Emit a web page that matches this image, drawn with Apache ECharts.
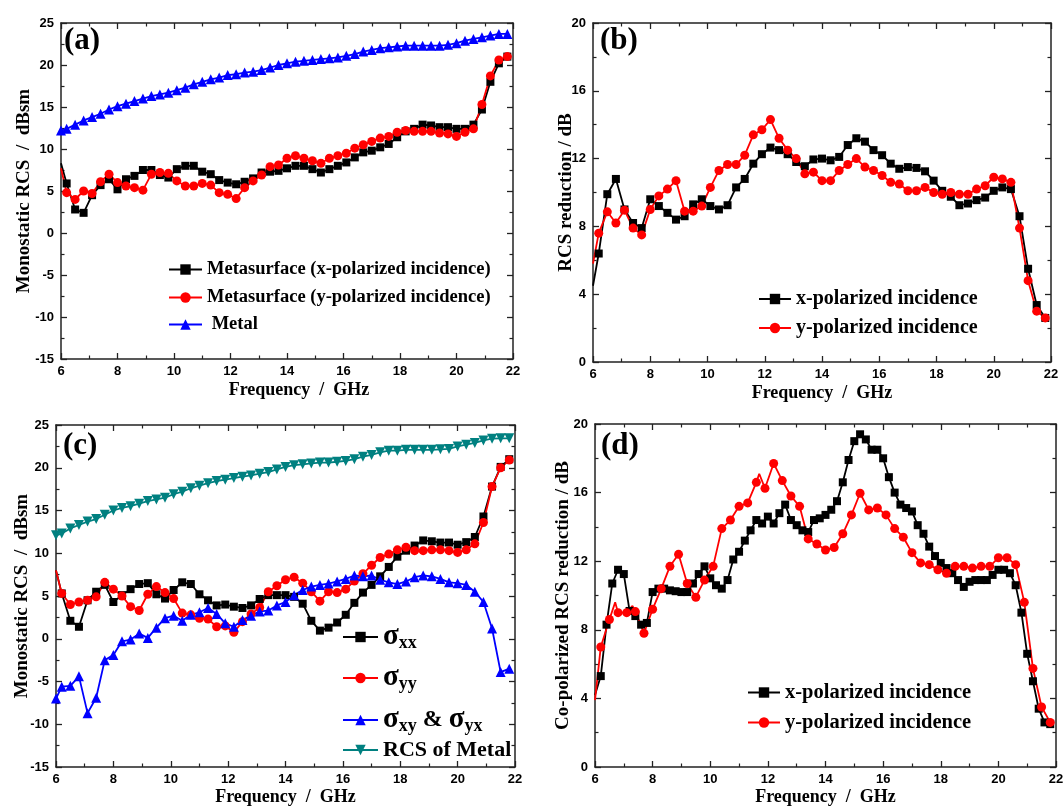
<!DOCTYPE html>
<html>
<head>
<meta charset="utf-8">
<script src="https://cdn.jsdelivr.net/npm/echarts@6/dist/echarts.min.js"></script>
<style>html,body{margin:0;padding:0;background:#fff;}#c{width:1064px;height:808px;}</style>
</head>
<body>
<div id="c"></div>
<script>
// ---------- data ----------
const freq = [6.0, 6.2, 6.5, 6.8, 7.1, 7.4, 7.7, 8.0, 8.3, 8.6, 8.9, 9.2, 9.5, 9.8, 10.1, 10.4, 10.7, 11.0, 11.3, 11.6, 11.9, 12.2, 12.5, 12.8, 13.1, 13.4, 13.7, 14.0, 14.3, 14.6, 14.9, 15.2, 15.5, 15.8, 16.1, 16.4, 16.7, 17.0, 17.3, 17.6, 17.9, 18.2, 18.5, 18.8, 19.1, 19.4, 19.7, 20.0, 20.3, 20.6, 20.9, 21.2, 21.5, 21.8];
const freqD = [6.0, 6.2, 6.4, 6.6, 6.8, 7.0, 7.2, 7.4, 7.6, 7.8, 8.0, 8.2, 8.4, 8.6, 8.8, 9.0, 9.2, 9.4, 9.6, 9.8, 10.0, 10.2, 10.4, 10.6, 10.8, 11.0, 11.2, 11.4, 11.6, 11.8, 12.0, 12.2, 12.4, 12.6, 12.8, 13.0, 13.2, 13.4, 13.6, 13.8, 14.0, 14.2, 14.4, 14.6, 14.8, 15.0, 15.2, 15.4, 15.6, 15.8, 16.0, 16.2, 16.4, 16.6, 16.8, 17.0, 17.2, 17.4, 17.6, 17.8, 18.0, 18.2, 18.4, 18.6, 18.8, 19.0, 19.2, 19.4, 19.6, 19.8, 20.0, 20.2, 20.4, 20.6, 20.8, 21.0, 21.2, 21.4, 21.6, 21.8];
const freqDY = [6.0, 6.2, 6.5, 6.7, 6.8, 7.1, 7.3, 7.4, 7.7, 8.0, 8.3, 8.6, 8.9, 9.2, 9.5, 9.8, 10.1, 10.4, 10.7, 11.0, 11.3, 11.6, 11.7, 11.9, 12.2, 12.5, 12.8, 13.1, 13.4, 13.7, 14.0, 14.3, 14.6, 14.9, 15.2, 15.5, 15.8, 16.1, 16.4, 16.7, 17.0, 17.3, 17.6, 17.9, 18.2, 18.5, 18.8, 19.1, 19.4, 19.7, 20.0, 20.3, 20.6, 20.9, 21.2, 21.5, 21.8];
const dYUnmarked = [6.0, 6.7, 7.3, 11.7];

// (a) monostatic RCS, dBsm
const aMetaX = [8.3, 5.9, 2.8, 2.4, 4.5, 5.7, 6.4, 5.2, 6.4, 6.8, 7.5, 7.5, 6.9, 6.6, 7.6, 8.0, 8.0, 7.3, 7.0, 6.3, 6.0, 5.8, 6.1, 6.5, 7.2, 7.3, 7.4, 7.7, 8.0, 8.0, 7.6, 7.2, 7.6, 8.0, 8.4, 9.0, 9.6, 9.8, 10.2, 10.6, 11.4, 12.1, 12.4, 12.9, 12.8, 12.6, 12.6, 12.4, 12.4, 12.9, 14.7, 18.0, 20.2, 21.0];
const aMetaY = [7.7, 4.8, 4.0, 5.0, 4.7, 6.1, 7.0, 6.0, 5.6, 5.4, 5.1, 7.0, 7.2, 7.1, 6.2, 5.6, 5.6, 5.9, 5.7, 4.8, 4.6, 4.1, 5.4, 6.2, 6.9, 7.9, 8.1, 8.9, 9.2, 8.9, 8.6, 8.3, 8.9, 9.2, 9.5, 10.1, 10.5, 10.9, 11.3, 11.5, 12.0, 12.2, 12.1, 12.1, 12.1, 11.9, 11.8, 11.5, 12.0, 12.4, 15.3, 18.7, 20.6, 21.0];
const aMetal = [12.2, 12.4, 12.9, 13.4, 13.8, 14.2, 14.7, 15.1, 15.4, 15.7, 16.0, 16.3, 16.5, 16.7, 17.0, 17.3, 17.7, 18.0, 18.3, 18.5, 18.8, 18.9, 19.1, 19.2, 19.4, 19.7, 20.0, 20.2, 20.4, 20.5, 20.6, 20.7, 20.8, 20.9, 21.1, 21.3, 21.6, 21.8, 22.0, 22.1, 22.2, 22.3, 22.3, 22.3, 22.3, 22.3, 22.4, 22.6, 22.9, 23.1, 23.3, 23.5, 23.7, 23.7];

// (b) RCS reduction, dB
const bX = [4.5, 6.4, 9.9, 10.8, 9.0, 8.2, 7.9, 9.6, 9.2, 8.8, 8.4, 8.6, 9.3, 9.6, 9.2, 9.0, 9.25, 10.3, 10.8, 11.7, 12.26, 12.65, 12.5, 12.26, 11.8, 11.55, 11.95, 12.0, 11.9, 12.1, 12.8, 13.2, 13.0, 12.5, 12.2, 11.7, 11.4, 11.5, 11.45, 11.25, 10.7, 10.1, 9.75, 9.25, 9.35, 9.55, 9.7, 10.1, 10.3, 10.2, 8.6, 5.5, 3.36, 2.6];
const bY = [5.8, 7.6, 8.86, 8.2, 8.96, 7.9, 7.5, 9.0, 9.8, 10.2, 10.7, 8.9, 8.9, 9.2, 10.3, 11.3, 11.65, 11.65, 12.2, 13.4, 13.7, 14.3, 13.2, 12.5, 12.0, 11.1, 11.2, 10.7, 10.7, 11.3, 11.65, 12.0, 11.5, 11.3, 11.0, 10.6, 10.5, 10.1, 10.1, 10.3, 10.0, 9.9, 10.0, 9.9, 9.9, 10.2, 10.4, 10.9, 10.8, 10.6, 7.9, 4.8, 3.0, 2.6];

// (c) monostatic RCS components, dBsm
const cXX = [8.0, 5.3, 2.1, 1.4, 4.5, 5.5, 6.3, 4.3, 5.1, 5.8, 6.4, 6.5, 5.2, 4.7, 5.7, 6.6, 6.4, 5.2, 4.5, 3.9, 4.0, 3.75, 3.6, 3.9, 4.65, 5.1, 5.1, 5.1, 4.9, 4.1, 2.1, 0.95, 1.3, 1.9, 2.8, 4.2, 5.4, 6.3, 7.3, 8.4, 9.6, 10.3, 10.9, 11.5, 11.4, 11.25, 11.25, 11.0, 11.3, 11.9, 14.3, 17.8, 20.1, 21.0];
const cYY = [8.0, 5.3, 4.0, 4.3, 4.5, 4.9, 6.6, 5.8, 5.0, 3.75, 3.3, 5.2, 6.1, 5.4, 4.7, 3.0, 2.8, 2.4, 2.3, 1.4, 1.5, 0.75, 2.0, 2.9, 3.65, 5.5, 6.2, 6.9, 7.2, 6.5, 5.5, 4.4, 5.5, 5.4, 5.8, 6.75, 7.6, 8.6, 9.5, 9.9, 10.4, 10.7, 10.3, 10.3, 10.4, 10.4, 10.3, 10.1, 10.4, 11.1, 13.6, 17.8, 20.0, 20.9];
const cXY = [-7.0, -5.6, -5.5, -4.4, -8.7, -6.9, -2.5, -1.9, -0.3, -0.1, 0.6, 0.1, 1.3, 2.4, 2.7, 2.1, 2.8, 3.1, 3.6, 2.9, 1.8, 1.4, 2.2, 2.7, 3.2, 3.3, 3.9, 4.3, 5.1, 5.7, 6.1, 6.3, 6.45, 6.7, 7.0, 7.4, 7.3, 7.4, 6.9, 6.6, 6.4, 6.7, 7.2, 7.4, 7.3, 7.0, 6.6, 6.5, 6.3, 5.5, 4.3, 1.2, -3.9, -3.5];
const cMetal = [12.1, 12.3, 12.9, 13.3, 13.7, 14.0, 14.5, 15.0, 15.3, 15.5, 15.8, 16.1, 16.3, 16.5, 16.9, 17.2, 17.6, 17.9, 18.2, 18.45, 18.6, 18.8, 18.96, 19.1, 19.3, 19.5, 19.8, 20.1, 20.3, 20.4, 20.5, 20.6, 20.6, 20.7, 20.8, 21.0, 21.3, 21.5, 21.8, 22.0, 22.0, 22.1, 22.1, 22.1, 22.1, 22.15, 22.2, 22.5, 22.7, 22.9, 23.2, 23.4, 23.44, 23.44];

// (d) co-polarized RCS reduction, dB
const dX = [4.2, 5.3, 8.3, 10.7, 11.5, 11.25, 9.1, 8.8, 8.3, 8.4, 10.2, 10.4, 10.4, 10.3, 10.25, 10.2, 10.2, 10.7, 11.25, 11.7, 11.0, 10.6, 10.4, 10.9, 12.1, 12.55, 13.2, 13.8, 14.4, 14.2, 14.6, 14.2, 14.8, 15.3, 14.4, 14.1, 13.8, 13.7, 14.4, 14.5, 14.7, 15.0, 15.5, 16.6, 17.9, 19.0, 19.4, 19.1, 18.5, 18.5, 18.0, 16.9, 16.0, 15.3, 15.1, 14.9, 14.1, 13.6, 12.85, 12.3, 11.9, 11.6, 11.3, 10.9, 10.5, 10.8, 10.9, 10.9, 10.9, 11.2, 11.5, 11.5, 11.3, 10.6, 9.0, 6.6, 5.0, 3.4, 2.6, 2.5];
const dY = [3.9, 7.0, 8.6, 9.6, 9.0, 9.0, 9.4, 9.06, 7.8, 9.2, 10.4, 11.7, 12.4, 10.7, 9.9, 10.9, 11.7, 13.9, 14.4, 15.2, 15.4, 16.6, 17.1, 16.25, 17.7, 16.7, 15.8, 15.2, 13.3, 13.0, 12.65, 12.8, 13.6, 14.7, 15.96, 14.99, 15.1, 14.7, 13.9, 13.4, 12.5, 11.9, 11.8, 11.5, 11.3, 11.7, 11.7, 11.6, 11.7, 11.7, 12.2, 12.2, 11.8, 9.6, 5.75, 3.5, 2.6];

const panelLabels = ['(a)', '(b)', '(c)', '(d)'];
const xName = 'Frequency  /  GHz';
const yNames = ['Monostatic RCS  /  dBsm', 'RCS reduction / dB', 'Monostatic RCS  /  dBsm', 'Co-polarized RCS reduction / dB'];
const yRanges = [[-15, 25, 5], [0, 20, 4], [-15, 25, 5], [0, 20, 4]];

// ---------- styles ----------
const SERIF = '"Liberation Serif", "Times New Roman", serif';
const SANS = '"Liberation Sans", Arial, sans-serif';
const FRAME = '#222';

function pts(xs, ys, unmarked) {
  return xs.map((x, i) => (unmarked && unmarked.indexOf(x) >= 0) ? {value: [x, ys[i]], symbol: 'none'} : [x, ys[i]]);
}
const FIRST = [6.0];

const grids = [
  {left: 61, top: 23, width: 452, height: 336},
  {left: 593, top: 23, width: 458, height: 339},
  {left: 56, top: 425, width: 459, height: 342},
  {left: 595, top: 424, width: 461, height: 343}
].map(g => Object.assign({outerBoundsMode: 'none', containLabel: false}, g));

const axisLine = {show: true, onZero: false, lineStyle: {color: FRAME, width: 1.5}};
const axisTick = {show: true, inside: true, length: 6, lineStyle: {color: FRAME, width: 1.3}};
const minorTick = {show: true, splitNumber: 2, length: 3.5, lineStyle: {color: FRAME, width: 1.2}};
const labelStyle = {color: '#000', fontFamily: SANS, fontWeight: 'bold', fontSize: 13, showMinLabel: true, showMaxLabel: true};
const nameStyle = {color: '#000', fontFamily: SERIF, fontWeight: 'bold', fontSize: 18};
const yNameStyle = {color: '#000', fontFamily: SERIF, fontWeight: 'bold', fontSize: 19};

const yGaps = [27, 17, 24, 22];
const xGaps = [22, 22, 21, 21];
const xNamePad = [[0, 0, 0, 24], 0, 0, 0];
const xAxes = [], yAxes = [];
for (let g = 0; g < 4; g++) {
  xAxes.push({type: 'value', gridIndex: g, position: 'bottom', min: 6, max: 22, interval: 2,
    name: xName, nameLocation: 'middle', nameGap: xGaps[g], nameMoveOverlap: false,
    nameTextStyle: Object.assign({padding: xNamePad[g]}, nameStyle),
    axisLine, axisTick, minorTick, splitLine: {show: false},
    axisLabel: Object.assign({margin: 6}, labelStyle)});
  xAxes.push({type: 'value', gridIndex: g, position: 'top', min: 6, max: 22, interval: 2,
    axisLine, axisTick, minorTick, splitLine: {show: false}, axisLabel: {show: false}});
  const r = yRanges[g];
  yAxes.push({type: 'value', gridIndex: g, position: 'left', min: r[0], max: r[1], interval: r[2],
    name: yNames[g], nameLocation: 'middle', nameGap: yGaps[g], nameMoveOverlap: false, nameTextStyle: yNameStyle,
    axisLine, axisTick, minorTick, splitLine: {show: false},
    axisLabel: Object.assign({margin: 7}, labelStyle)});
  yAxes.push({type: 'value', gridIndex: g, position: 'right', min: r[0], max: r[1], interval: r[2],
    axisLine, axisTick, minorTick, splitLine: {show: false}, axisLabel: {show: false}});
}

function line(name, g, xs, ys, color, symbol, size, unmarked, extra) {
  return Object.assign({
    name, type: 'line', xAxisIndex: 2 * g, yAxisIndex: 2 * g,
    data: pts(xs, ys, unmarked), symbol, symbolSize: size, showSymbol: true,
    itemStyle: {color}, lineStyle: {color, width: 1.8}, emphasis: {disabled: true},
    z: 2
  }, extra || {});
}

const series = [
  line('Metasurface (x-polarized incidence)', 0, freq, aMetaX, '#000', 'rect', 8, FIRST),
  line('Metasurface (y-polarized incidence)', 0, freq, aMetaY, '#ff0000', 'circle', 9, FIRST),
  line('Metal', 0, freq, aMetal, '#0000ff', 'triangle', 10, null),
  line('x-polarized incidence', 1, freq, bX, '#000', 'rect', 8, FIRST),
  line('y-polarized incidence', 1, freq, bY, '#ff0000', 'circle', 9, FIRST),
  line('sxx', 2, freq, cXX, '#000', 'rect', 8, FIRST),
  line('syy', 2, freq, cYY, '#ff0000', 'circle', 9, FIRST),
  line('sxy', 2, freq, cXY, '#0000ff', 'triangle', 10, null),
  line('RCS of Metal', 2, freq, cMetal, '#008080', 'triangle', 10, null, {symbolRotate: 180}),
  line('x-polarized incidence', 3, freqD, dX, '#000', 'rect', 8, FIRST),
  line('y-polarized incidence', 3, freqDY, dY, '#ff0000', 'circle', 9, dYUnmarked)
];

function txt(size) {
  return {color: '#000', fontFamily: SERIF, fontWeight: 'bold', fontSize: size, lineHeight: Math.round(size + 2)};
}
const sigmaRich = {
  s: {fontFamily: SERIF, fontSize: 29, fontWeight: 'bold', color: '#000', lineHeight: 28},
  b: {fontFamily: SERIF, fontSize: 18, fontWeight: 'bold', color: '#000', lineHeight: 28, padding: [12, 0, 0, 0]},
  m: {fontFamily: SERIF, fontSize: 24, fontWeight: 'bold', color: '#000', lineHeight: 28}
};
function leg(name, left, rowY, w, style, fmt) {
  const h = style.lineHeight || 28;
  const o = {show: true, data: [name], left, top: Math.round(rowY - h / 2), orient: 'vertical', padding: 0,
    itemWidth: w, itemHeight: 13, itemGap: 0, selectedMode: false, textStyle: style};
  if (fmt) o.formatter = fmt;
  return o;
}
const legends = [
  leg('Metasurface (x-polarized incidence)', 168, 269, 33, txt(18.5)),
  leg('Metasurface (y-polarized incidence)', 168, 297, 33, txt(18.5)),
  leg('Metal', 168, 324, 33, txt(18.5), n => ' ' + n),
  leg('x-polarized incidence', 758, 299, 32, txt(20)),
  leg('y-polarized incidence', 758, 328, 32, txt(20)),
  leg('sxx', 342, 636, 35, {rich: sigmaRich, lineHeight: 28}, () => '{s|σ}{b|xx}'),
  leg('syy', 342, 677, 35, {rich: sigmaRich, lineHeight: 28}, () => '{s|σ}{b|yy}'),
  leg('sxy', 342, 719, 35, {rich: sigmaRich, lineHeight: 28}, () => '{s|σ}{b|xy}{m| & }{s|σ}{b|yx}'),
  leg('RCS of Metal', 342, 750, 35, txt(22)),
  leg('x-polarized incidence', 747, 692, 32, txt(20.5)),
  leg('y-polarized incidence', 747, 722, 32, txt(20.5))
];

const labelPos = [[64, 25], [600, 25], [63, 430], [601, 430]];
const titles = panelLabels.map((t, i) => ({text: t, left: labelPos[i][0], top: labelPos[i][1], padding: 0,
  textStyle: {fontFamily: SERIF, fontWeight: 'bold', fontSize: 31, color: '#000'}}));

const chart = echarts.init(document.getElementById('c'), null, {renderer: 'canvas'});
chart.setOption({
  animation: false,
  backgroundColor: '#fff',
  title: titles,
  grid: grids,
  xAxis: xAxes,
  yAxis: yAxes,
  legend: legends,
  series
});
</script>
</body>
</html>
